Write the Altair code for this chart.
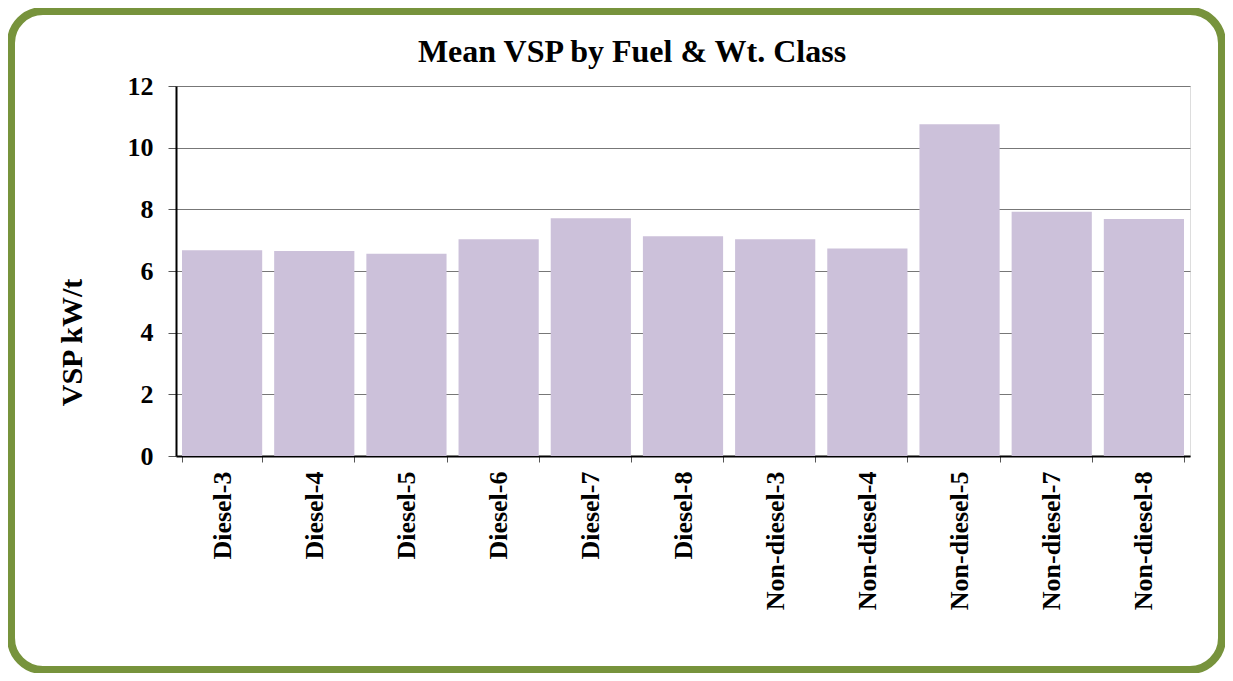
import altair as alt
import pandas as pd

categories = ["Diesel-3", "Diesel-4", "Diesel-5", "Diesel-6", "Diesel-7", "Diesel-8",
              "Non-diesel-3", "Non-diesel-4", "Non-diesel-5", "Non-diesel-7", "Non-diesel-8"]
vsp = [6.67, 6.65, 6.56, 7.03, 7.71, 7.13, 7.03, 6.73, 10.76, 7.92, 7.69]
y_ticks = [0, 2, 4, 6, 8, 10, 12]
title_text = "Mean VSP by Fuel & Wt. Class"

df = pd.DataFrame({"cat": categories, "vsp": vsp})

W, H = 1014, 370
FONT = "Liberation Serif"

bars = alt.Chart(df).mark_bar(color="#CCC1DA").encode(
    x=alt.X("cat:N", sort=categories, title=None,
            scale=alt.Scale(paddingInner=0.13, paddingOuter=0.065),
            axis=alt.Axis(labelAngle=270, labelAlign="right", labelBaseline="middle",
                          labelFont=FONT, labelFontWeight="bold", labelFontSize=26,
                          labelColor="black", labelPadding=9, labelOverlap=False,
                          labelLimit=300, tickBand="extent", tickSize=6,
                          tickColor="#555555", domainColor="black", domainWidth=2,
                          grid=False)),
    y=alt.Y("vsp:Q", title="VSP kW/t", scale=alt.Scale(domain=[0, 12], nice=False),
            axis=alt.Axis(values=y_ticks, format="d", labelFont=FONT,
                          labelFontWeight="bold", labelFontSize=26, labelColor="black",
                          labelPadding=15, tickSize=8, tickColor="#555555",
                          domainColor="black", domainWidth=2,
                          grid=True, gridColor="#777777", gridWidth=1,
                          titleFont=FONT, titleFontSize=30, titleFontWeight="bold",
                          titleColor="black", titleAngle=270, titleAlign="center",
                          titleBaseline="middle", titleX=-104, titleY=256)),
)

border = alt.Chart(alt.Data(values=[{"k": 1}])).mark_rect(
    fill="white", fillOpacity=0, stroke="#77933C", strokeWidth=8, cornerRadius=32
).encode(
    x=alt.value(-165), x2=alt.value(W + 32),
    y=alt.value(-75), y2=alt.value(H + 214),
)

title = alt.Chart(alt.Data(values=[{"t": title_text}])).mark_text(
    font=FONT, fontSize=32, fontWeight="bold", color="black",
    align="center", baseline="alphabetic"
).encode(
    text="t:N", x=alt.value(456), y=alt.value(-24),
)

chart = alt.layer(border, bars, title).properties(
    width=W, height=H,
    autosize=alt.AutoSizeParams(type="none"),
    padding={"left": 168, "top": 78, "right": 35, "bottom": 217},
).configure_view(stroke="#888888", strokeWidth=2).configure(background="white")

chart.save("out.html", embed_options={"renderer": "svg", "actions": False})
